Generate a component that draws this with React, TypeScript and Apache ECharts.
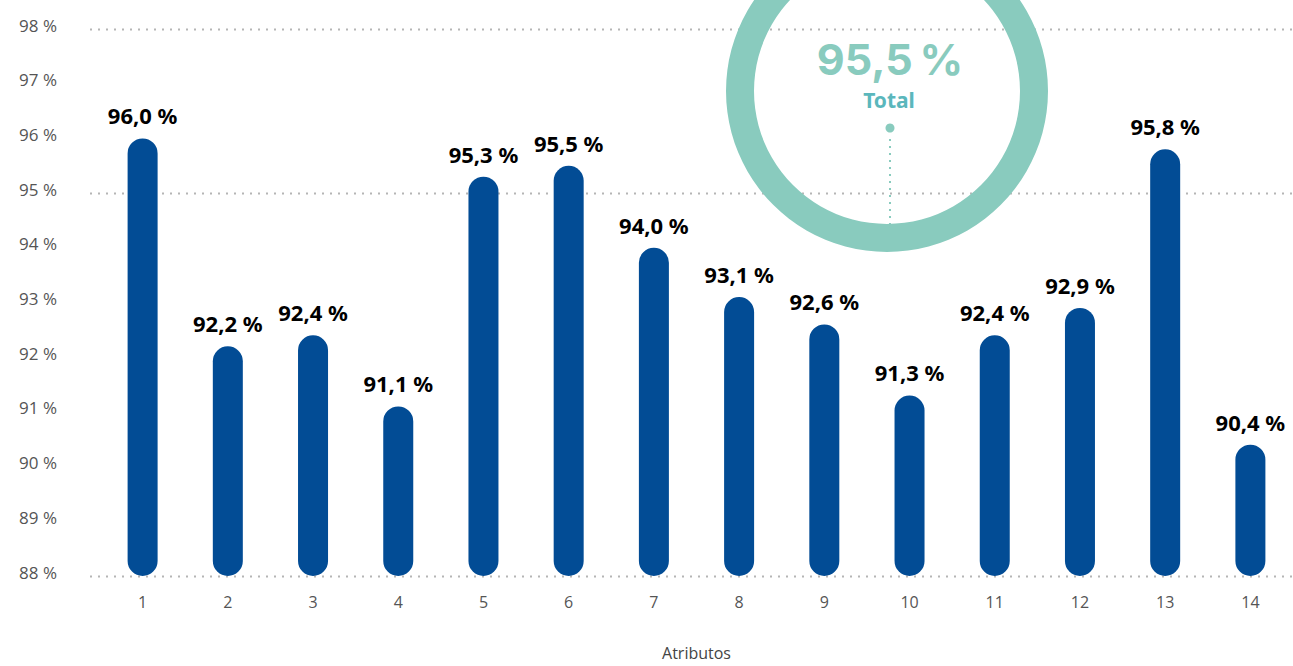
import React, { useEffect, useRef } from "react";
import * as echarts from "echarts";

const categories = ["1", "2", "3", "4", "5", "6", "7", "8", "9", "10", "11", "12", "13", "14"];
const values = [96.0, 92.2, 92.4, 91.1, 95.3, 95.5, 94.0, 93.1, 92.6, 91.3, 92.4, 92.9, 95.8, 90.4];
const yMin = 88;
const yMax = 98;
const gridValues = [98, 95, 88];
const totalValue = 95.5;
const totalLabel = "Total";
const axisName = "Atributos";

const fmt = (v: number) => v.toFixed(1).replace(".", ",") + " %";

export default function App() {
  const ref = useRef<HTMLDivElement>(null);
  useEffect(() => {
    if (!ref.current) return;
    const chart = echarts.init(ref.current, null, { renderer: "svg" });
    chart.setOption({
      animation: false,
      grid: { left: 100, right: 0, top: 29, bottom: 89 },
      xAxis: {
        type: "category",
        data: categories,
        axisLine: { show: false },
        axisTick: { show: false },
        axisLabel: { color: "#555", fontSize: 16, fontFamily: "Open Sans", margin: 18 },
        name: axisName,
        nameLocation: "middle",
        nameGap: 69,
        nameTextStyle: { color: "#444", fontSize: 16, fontFamily: "Open Sans" },
      },
      yAxis: {
        type: "value",
        min: yMin,
        max: yMax,
        interval: 1,
        splitLine: { show: false },
        axisLine: { show: false },
        axisTick: { show: false },
        axisLabel: {
          margin: 43,
          formatter: (v: number) => "{a|" + v + " %}",
          rich: {
            a: {
              color: "#555",
              fontSize: 17,
              fontFamily: "Open Sans",
              padding: [0, 0, 8, 0],
            },
          },
        },
      },
      series: [
        {
          type: "bar",
          data: values,
          barWidth: 30,
          z: 5,
          itemStyle: { color: "#024C95", borderRadius: 15 },
          label: {
            show: true,
            position: "top",
            distance: 12,
            color: "#000",
            fontSize: 22,
            fontWeight: "bold",
            fontFamily: "Noto Sans",
            formatter: (p: any) => fmt(p.value),
          },
        },
      ],
    });
    const lines = gridValues.map((v) => {
      const y = Math.round(chart.convertToPixel({ yAxisIndex: 0 }, v) as number) + 0.5;
      return {
        type: "line",
        z: 0,
        shape: { x1: 90, y1: y, x2: 1293, y2: y },
        style: { stroke: "#b5b5b5", lineWidth: 2, lineDash: [2, 6] },
        silent: true,
      };
    });
    chart.setOption({
      graphic: [
        ...lines,
        {
          type: "ring",
          z: 10,
          shape: { cx: 887, cy: 91, r: 161, r0: 133 },
          style: { fill: "#89CBBE" },
        },
        {
          type: "text",
          z: 11,
          x: 890,
          y: 59,
          style: {
            text: totalValue.toFixed(1).replace(".", ",") + "\u2009%",
            fill: "#89CBBE",
            font: "bold 43px Inter",
            align: "center",
            verticalAlign: "middle",
          },
        },
        {
          type: "text",
          z: 11,
          x: 889,
          y: 100,
          style: {
            text: totalLabel,
            fill: "#5BB7BC",
            font: "bold 21px 'Noto Sans'",
            align: "center",
            verticalAlign: "middle",
          },
        },
        {
          type: "circle",
          z: 11,
          shape: { cx: 890, cy: 128, r: 4.5 },
          style: { fill: "#89CBBE" },
        },
        {
          type: "line",
          z: 11,
          shape: { x1: 890, y1: 139, x2: 890, y2: 224 },
          style: { stroke: "#89CBBE", lineWidth: 2, lineDash: [2, 5] },
        },
      ],
    });
    return () => chart.dispose();
  }, []);
  return (
    <div
      ref={ref}
      style={{ position: "fixed", left: 0, top: 0, width: 1293, height: 666, background: "#fff" }}
    />
  );
}
